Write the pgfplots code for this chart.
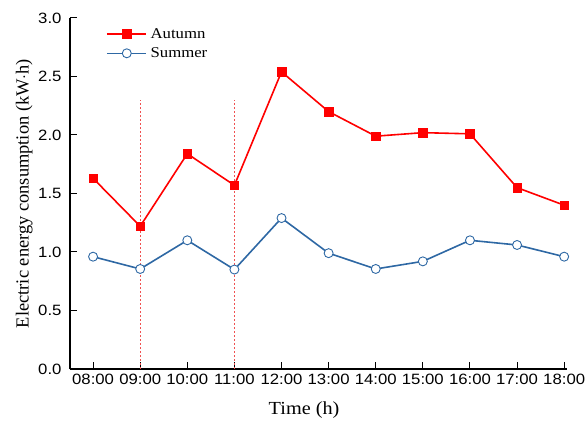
\documentclass[border=0pt]{standalone}
\usepackage{fontspec}
\setmainfont{Liberation Serif}
\newfontfamily\arialx[FakeStretch=1.12]{Liberation Sans}
\newfontfamily\timesx[FakeStretch=1.12]{Liberation Serif}
\newfontfamily\timesl[FakeStretch=1.1]{Liberation Serif}
\usepackage{pgfplots}
\pgfplotsset{compat=1.18}
\definecolor{autred}{RGB}{255,0,0}
\definecolor{sumblue}{RGB}{46,104,164}
\definecolor{dashred}{RGB}{240,80,80}
\begin{document}
\begin{tikzpicture}
\path[use as bounding box] (-70bp,-52bp) rectangle (516bp,369bp);
\begin{axis}[
  at={(0,0)}, anchor=south west,
  scale only axis,
  width=497bp, height=351bp,
  xmin=-0.49, xmax=10.06,
  ymin=0, ymax=3,
  axis x line=bottom, axis y line=left,
  axis line style={-, line width=1.2bp, black},
  tick align=inside,
  major tick length=7bp,
  tick style={black, line width=1bp},
  xtick={0,1,2,3,4,5,6,7,8,9,10},
  xticklabels={08:00,09:00,10:00,11:00,12:00,13:00,14:00,15:00,16:00,17:00,18:00},
  ytick={0,0.5,1,1.5,2,2.5,3},
  yticklabel style={/pgf/number format/.cd, fixed, fixed zerofill, precision=1, /tikz/.cd, xshift=-5bp},
  /pgf/number format/assume math mode=true,
  tick label style={font=\arialx\fontsize{15}{17}\selectfont},
  xticklabel style={yshift=-2bp},
  xlabel={Time (h)},
  ylabel={Electric energy consumption (kW$\cdot$h)},
  xlabel style={font=\timesl\fontsize{18.5}{21}\selectfont, at={(axis description cs:0.471,-0.118)}, anchor=center},
  ylabel style={font=\fontsize{18.5}{21}\selectfont, at={(axis description cs:-0.092,0.5)}, anchor=center},
  legend style={draw=none, fill=none, at={(axis description cs:0.072,0.977)}, anchor=north west,
    font=\timesx\fontsize{15}{17}\selectfont, row sep=4bp, inner sep=0pt,
    nodes={inner xsep=4bp}},
  legend cell align=left,
  legend image code/.code={\draw[mark repeat=2,mark phase=2,#1] plot coordinates {(0bp,0bp)(20bp,0bp)(39bp,0bp)};},
  clip=false,
]
\addplot[color=autred, line width=1.6bp, mark=square*, mark size=4.3bp, mark options={solid, fill=autred, draw=autred, line width=0.5bp}]
coordinates {(0,1.63)(1,1.22)(2,1.84)(3,1.57)(4,2.54)(5,2.20)(6,1.99)(7,2.02)(8,2.01)(9,1.55)(10,1.40)};
\addlegendentry{Autumn}
\addplot[color=sumblue, line width=1.6bp, mark=*, mark size=4.5bp, mark options={solid, fill=white, draw=sumblue, line width=0.9bp}]
coordinates {(0,0.96)(1,0.855)(2,1.10)(3,0.85)(4,1.29)(5,0.99)(6,0.855)(7,0.92)(8,1.10)(9,1.06)(10,0.96)};
\addlegendentry{Summer}
\addplot[dashred, line width=0.7bp, dash pattern=on 2bp off 2bp, forget plot] coordinates {(1,0)(1,2.3)};
\addplot[dashred, line width=0.7bp, dash pattern=on 2bp off 2bp, forget plot] coordinates {(3,0)(3,2.3)};
\end{axis}
\end{tikzpicture}
\end{document}
